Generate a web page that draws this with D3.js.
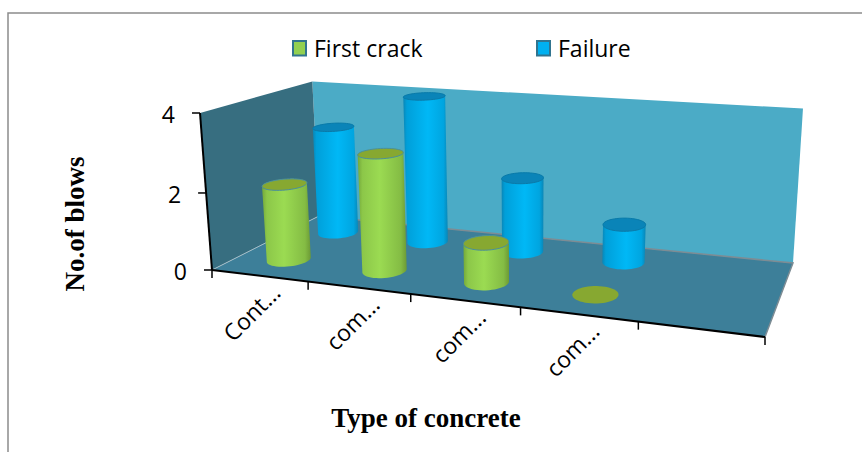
<!DOCTYPE html>
<html>
<head>
<meta charset="utf-8">
<script src="https://cdn.jsdelivr.net/npm/d3@7"></script>
<style>
  html, body { margin: 0; padding: 0; background: #fff; }
  svg { display: block; }
</style>
</head>
<body>
<div id="chart"></div>
<script>
const categories = ["Cont...", "com...", "com...", "com...", ""];
const seriesNames = ["Failure", "First crack"];
const firstCrack = [2, 3, 1, 0, null];
const failure = [3, 4, 2, 1, null];
const valueTicks = [0, 2, 4];

const width = 862, height = 452;

const svg = d3.select("#chart").append("svg")
  .attr("width", width)
  .attr("height", height);

// Corners of the 3D box on screen, everything else goes through project()
const A = [212, 270], B = [765, 337], C = [319, 216], D = [793, 263];
const E = [200, 113], G = [803, 112];

const denom = (B[0] - D[0]) * (C[1] - D[1]) - (C[0] - D[0]) * (B[1] - D[1]);
const sx = A[0] - B[0] + D[0] - C[0];
const sy = A[1] - B[1] + D[1] - C[1];
const g = (sx * (C[1] - D[1]) - (C[0] - D[0]) * sy) / denom;
const h = ((B[0] - D[0]) * sy - sx * (B[1] - D[1])) / denom;
const a = B[0] - A[0] + g * B[0];
const b = C[0] - A[0] + h * C[0];
const d_ = B[1] - A[1] + g * B[1];
const e = C[1] - A[1] + h * C[1];
const w = ((D[0] - G[0]) * (g + h + 1) - A[0] + E[0]) / (G[0] - E[0]);
const p = E[0] * (w + 1) - A[0];
const q = E[1] * (w + 1) - A[1];

// u = along the categories, t = depth, v = height, all 0..1
function project(u, t, v) {
  const k = g * u + h * t + w * v + 1;
  return [
    (a * u + b * t + p * v + A[0]) / k,
    (d_ * u + e * t + q * v + A[1]) / k
  ];
}

const xBand = d3.scaleBand().domain(d3.range(categories.length)).range([0, 1]);
const depthBand = d3.scaleBand().domain(seriesNames).range([0, 1]);
const yScale = d3.scaleLinear().domain([0, 4]).range([0, 1]);

const line = d3.line();
const poly = pts => line(pts) + "Z";

// Walls and floor
svg.append("path")
  .attr("d", poly([project(0, 1, 0), project(1, 1, 0), project(1, 1, 1), project(0, 1, 1)]))
  .attr("fill", "#4babc6");
svg.append("path")
  .attr("d", poly([project(0, 0, 0), project(0, 1, 0), project(0, 1, 1), project(0, 0, 1)]))
  .attr("fill", "#376e80");
svg.append("path")
  .attr("d", poly([project(0, 0, 0), project(1, 0, 0), project(1, 1, 0), project(0, 1, 0)]))
  .attr("fill", "#3d7f99");

// Edges of the floor
svg.append("path")
  .attr("d", line([project(0, 0, 0), project(0, 1, 0)]))
  .attr("stroke", "#a3bcc6").attr("stroke-width", 1).attr("fill", "none");
svg.append("path")
  .attr("d", line([project(0, 1, 0), project(1, 1, 0), project(1, 0, 0)]))
  .attr("stroke", "#7d8c94").attr("stroke-width", 1.5).attr("fill", "none");

// Gradients for the cylinder bodies
const defs = svg.append("defs");
function addGradient(id, stops) {
  const grad = defs.append("linearGradient").attr("id", id)
    .attr("x1", 0).attr("x2", 1).attr("y1", 0).attr("y2", 0);
  stops.forEach(s => grad.append("stop").attr("offset", s[0]).attr("stop-color", s[1]));
}
addGradient("bodyBlue", [[0, "#0a86b6"], [0.08, "#009fd9"], [0.55, "#00b8f6"], [0.9, "#00a5e0"], [1, "#0a86b6"]]);
addGradient("bodyGreen", [[0, "#74a83a"], [0.1, "#8cc749"], [0.45, "#9bdb52"], [0.88, "#84bc44"], [1, "#6c9a35"]]);

const styles = {
  "First crack": { body: "url(#bodyGreen)", top: "#87a831", rim: "#4a8f9c", swatch: "#92d050" },
  "Failure": { body: "url(#bodyBlue)", top: "#0a84b8", rim: "#0b7aa8", swatch: "#00b0f0" }
};

const radiusU = 0.039, radiusT = 0.115;

function circle(uc, tc, v) {
  return d3.range(0, 48).map(i => {
    const ang = i / 48 * 2 * Math.PI;
    return project(uc + radiusU * Math.cos(ang), tc + radiusT * Math.sin(ang), v);
  });
}

function drawCylinder(series, catIndex, value) {
  if (value === null) return;
  const st = styles[series];
  const uc = xBand(catIndex) + xBand.bandwidth() / 2;
  const tc = depthBand(series) === 0 ? 0.75 : 0.26;
  const v = yScale(value);
  const base = circle(uc, tc, 0);
  const top = circle(uc, tc, v);
  if (value > 0) {
    svg.append("path")
      .attr("d", poly(d3.polygonHull(base.concat(top))))
      .attr("fill", st.body);
  }
  svg.append("path")
    .attr("d", poly(top))
    .attr("fill", st.top)
    .attr("stroke", value > 0 ? st.rim : "none")
    .attr("stroke-width", 1);
}

// Back row first so the front row covers it
categories.forEach((c, i) => drawCylinder("Failure", i, failure[i]));
categories.forEach((c, i) => drawCylinder("First crack", i, firstCrack[i]));

// Value axis
svg.append("path")
  .attr("d", line([project(0, 0, 0), project(0, 0, 1)]))
  .attr("stroke", "#000").attr("stroke-width", 2).attr("fill", "none");
valueTicks.forEach(val => {
  const pt = project(0, 0, yScale(val));
  svg.append("line")
    .attr("x1", pt[0] - 8).attr("x2", pt[0])
    .attr("y1", pt[1]).attr("y2", pt[1])
    .attr("stroke", "#000").attr("stroke-width", 1.5);
  svg.append("text")
    .attr("x", pt[0] - 25)
    .attr("y", pt[1] + 2)
    .attr("dy", "0.35em")
    .attr("text-anchor", "end")
    .attr("font-family", "Open Sans")
    .attr("font-size", 23)
    .attr("fill", "#000")
    .text(val);
});

// Category axis
svg.append("path")
  .attr("d", line([project(0, 0, 0), project(1, 0, 0)]))
  .attr("stroke", "#000").attr("stroke-width", 2).attr("fill", "none");
d3.range(categories.length + 1).forEach(i => {
  const pt = project(xBand.step() * i, 0, 0);
  svg.append("line")
    .attr("x1", pt[0]).attr("x2", pt[0])
    .attr("y1", pt[1]).attr("y2", pt[1] + 8)
    .attr("stroke", "#000").attr("stroke-width", 1.5);
});
categories.forEach((c, i) => {
  const pt = project(xBand(i) + xBand.bandwidth() / 2, 0, 0);
  svg.append("text")
    .attr("transform", `translate(${pt[0] + 17},${pt[1] + 13}) rotate(-45)`)
    .attr("text-anchor", "end")
    .attr("dy", "0.35em")
    .attr("font-family", "Open Sans")
    .attr("font-size", 23)
    .attr("fill", "#000")
    .text(c);
});

// Axis titles
svg.append("text")
  .attr("x", 426).attr("y", 427)
  .attr("text-anchor", "middle")
  .attr("font-family", "Liberation Serif")
  .attr("font-weight", "bold")
  .attr("font-size", 27)
  .text("Type of concrete");
svg.append("text")
  .attr("transform", "translate(84,224) rotate(-90)")
  .attr("text-anchor", "middle")
  .attr("font-family", "Liberation Serif")
  .attr("font-weight", "bold")
  .attr("font-size", 27)
  .text("No.of blows");

// Legend
const legendItems = [
  { name: "First crack", x: 293 },
  { name: "Failure", x: 537 }
];
legendItems.forEach(item => {
  svg.append("rect")
    .attr("x", item.x).attr("y", 41)
    .attr("width", 13).attr("height", 14.5)
    .attr("fill", styles[item.name].swatch)
    .attr("stroke", "#31748f").attr("stroke-width", 2);
  svg.append("text")
    .attr("x", item.x + 21).attr("y", 57)
    .attr("font-family", "Open Sans")
    .attr("font-size", 23)
    .attr("fill", "#000")
    .text(item.name);
});

// Frame, only top and left are visible
svg.append("path")
  .attr("d", line([[8, height], [8, 13], [width, 13]]))
  .attr("fill", "none")
  .attr("stroke", "#8c8c8c")
  .attr("stroke-width", 1.5);
</script>
</body>
</html>
